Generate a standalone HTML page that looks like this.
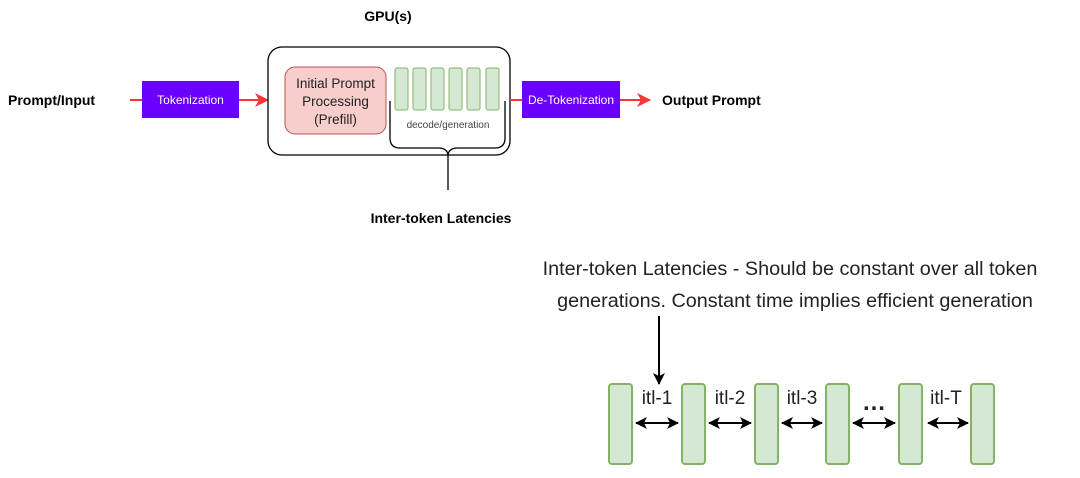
<!DOCTYPE html>
<html><head><meta charset="utf-8"><style>
body{margin:0;background:#fff;}
svg text{font-family:"Liberation Sans",Arial,sans-serif;}
</style></head><body>
<svg width="1080" height="473" viewBox="0 0 1080 473" xmlns="http://www.w3.org/2000/svg">
<defs>
<marker id="ra" markerWidth="14" markerHeight="14" refX="13" refY="7" orient="auto" markerUnits="userSpaceOnUse"><path d="M0,0 L14,7 L0,14 L4,7 Z" fill="#ff3333"/></marker>
<marker id="ka" markerWidth="12" markerHeight="12" refX="11" refY="6" orient="auto-start-reverse" markerUnits="userSpaceOnUse"><path d="M0,0 L12,6 L0,12 L3,6 Z" fill="#000"/></marker>
</defs>
<text x="8" y="105" font-size="14" font-weight="bold">Prompt/Input</text>
<line x1="130" y1="100" x2="142" y2="100" stroke="#ff3333" stroke-width="2"/>
<rect x="142" y="81" width="97" height="37" fill="#6a00ff"/>
<text x="190.5" y="104" font-size="12" fill="#fff" text-anchor="middle">Tokenization</text>
<line x1="239" y1="100" x2="268" y2="100" stroke="#ff3333" stroke-width="2" marker-end="url(#ra)"/>
<text x="388" y="21" font-size="14" font-weight="bold" text-anchor="middle">GPU(s)</text>
<rect x="268" y="47" width="242" height="108" rx="14" fill="#fff" stroke="#000" stroke-width="1.3"/>
<rect x="285" y="67" width="101" height="67" rx="10" fill="#f8cecc" stroke="#b85450"/>
<text x="335.5" y="88" font-size="13.5" text-anchor="middle" fill="#222">Initial Prompt</text>
<text x="335.5" y="106" font-size="13.5" text-anchor="middle" fill="#222">Processing</text>
<text x="335.5" y="124" font-size="13.5" text-anchor="middle" fill="#222">(Prefill)</text>
<g fill="#d5e8d4" stroke="#82b366">
<rect x="395" y="68" width="13" height="42" rx="2"/>
<rect x="413" y="68" width="13" height="42" rx="2"/>
<rect x="431" y="68" width="13" height="42" rx="2"/>
<rect x="449" y="68" width="13" height="42" rx="2"/>
<rect x="467" y="68" width="13" height="42" rx="2"/>
<rect x="486" y="68" width="13" height="42" rx="2"/>
</g>
<text x="448" y="128" font-size="10" text-anchor="middle" fill="#444">decode/generation</text>
<path d="M390,101 V138 Q390,148 400,148 H438 Q448,148 448,156 Q448,148 458,148 H495 Q505,148 505,138 V101" fill="none" stroke="#000" stroke-width="1.3"/>
<line x1="448" y1="155" x2="448" y2="190" stroke="#000" stroke-width="1.3"/>
<text x="441" y="223" font-size="14" font-weight="bold" text-anchor="middle">Inter-token Latencies</text>
<line x1="510" y1="100" x2="522" y2="100" stroke="#ff3333" stroke-width="2"/>
<rect x="522" y="81" width="98" height="37" fill="#6a00ff"/>
<text x="571" y="104" font-size="12" fill="#fff" text-anchor="middle">De-Tokenization</text>
<line x1="620" y1="100" x2="650" y2="100" stroke="#ff3333" stroke-width="2" marker-end="url(#ra)"/>
<text x="662" y="105" font-size="14" font-weight="bold">Output Prompt</text>
<text x="790" y="275" font-size="19.8" text-anchor="middle" fill="#222">Inter-token Latencies - Should be constant over all token</text>
<text x="795" y="307" font-size="19.8" text-anchor="middle" fill="#222">generations. Constant time implies efficient generation</text>
<line x1="659" y1="316" x2="659" y2="384" stroke="#000" stroke-width="2" marker-end="url(#ka)"/>
<g fill="#d5e8d4" stroke="#82b366" stroke-width="2">
<rect x="609" y="384" width="23" height="80" rx="3"/>
<rect x="682" y="384" width="23" height="80" rx="3"/>
<rect x="755" y="384" width="23" height="80" rx="3"/>
<rect x="826" y="384" width="23" height="80" rx="3"/>
<rect x="899" y="384" width="23" height="80" rx="3"/>
<rect x="971" y="384" width="23" height="80" rx="3"/>
</g>
<g font-size="19" text-anchor="middle" fill="#222">
<text x="657" y="404">itl-1</text>
<text x="730" y="404">itl-2</text>
<text x="802" y="404">itl-3</text>
<text x="874" y="410" font-size="24" font-weight="bold">…</text>
<text x="946" y="404">itl-T</text>
</g>
<g stroke="#000" stroke-width="2">
<line x1="636" y1="423" x2="678" y2="423" marker-start="url(#ka)" marker-end="url(#ka)"/>
<line x1="709" y1="423" x2="751" y2="423" marker-start="url(#ka)" marker-end="url(#ka)"/>
<line x1="782" y1="423" x2="822" y2="423" marker-start="url(#ka)" marker-end="url(#ka)"/>
<line x1="853" y1="423" x2="895" y2="423" marker-start="url(#ka)" marker-end="url(#ka)"/>
<line x1="928" y1="423" x2="968" y2="423" marker-start="url(#ka)" marker-end="url(#ka)"/>
</g>
</svg>
</body></html>
